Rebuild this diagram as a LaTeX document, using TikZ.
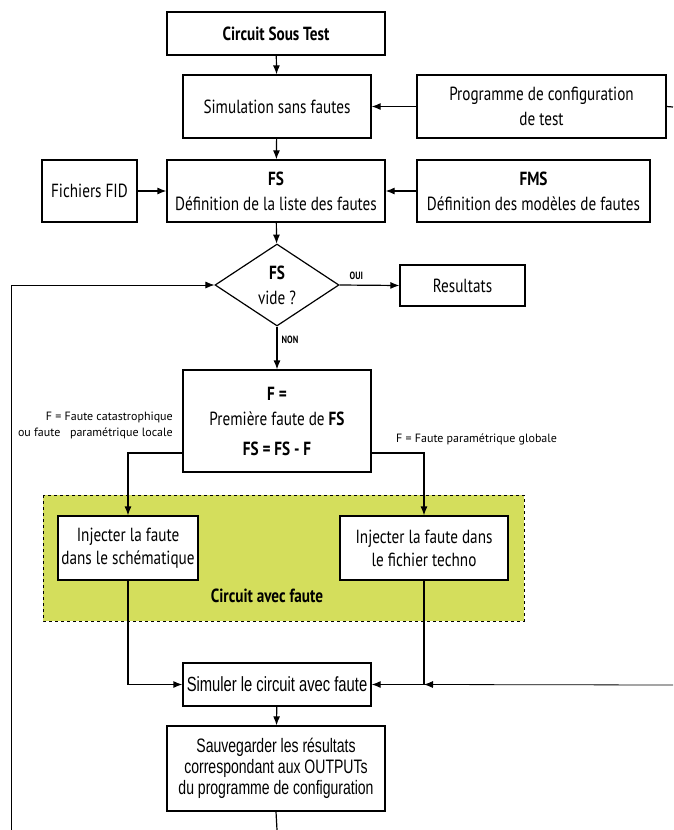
\documentclass[tikz,border=0pt]{standalone}
\usepackage{fontspec}
\setmainfont{PT Sans}[FakeStretch=0.80]
\newfontfamily\notefont{PT Sans}
\newfontfamily\narrowfont{Liberation Sans}[FakeStretch=0.72]
\usetikzlibrary{arrows.meta,shapes.geometric}
\definecolor{zonegreen}{RGB}{212,222,92}
\begin{document}
\begin{tikzpicture}[x=1pt,y=-1pt,
  box/.style={draw, line width=1.2pt, inner sep=0pt, align=center,
    font=\fontsize{19}{25}\selectfont},
  narrowbox/.style={box, font=\narrowfont\fontsize{19.5}{21}\selectfont},
  decision/.style={draw, line width=1.2pt, diamond, inner sep=0pt, align=center,
    minimum width=124pt, minimum height=82pt, font=\fontsize{19}{25}\selectfont},
  flow/.style={line width=1.2pt, -{Latex[length=9pt,width=7pt]}},
  plain/.style={line width=1.2pt},
  note/.style={font=\notefont\fontsize{12}{16}\selectfont, inner sep=0pt},
  tag/.style={font=\bfseries\fontsize{10.5}{12}\selectfont, inner sep=0pt}]
\useasboundingbox (0,0) rectangle (673,830);

% fault-injection zone
\draw[dashed, line width=0.8pt, fill=zonegreen] (43,495) rectangle (524,621);

% boxes
\node[box, minimum width=218pt, minimum height=43pt] (cst) at (276,33.5) {\textbf{Circuit Sous Test}};
\node[box, minimum width=188pt, minimum height=63pt] (sim) at (277,106.5) {Simulation sans fautes};
\node[box, minimum width=249pt, minimum height=63pt] (prog) at (541.5,106.5) {Programme de configuration\\de test};
\node[box, minimum width=95pt, minimum height=62pt] (fid) at (89.5,191) {Fichiers FID};
\node[box, minimum width=218pt, minimum height=62pt] (fs) at (276,191) {\textbf{FS}\\Définition de la liste des fautes};
\node[box, minimum width=233pt, minimum height=62pt] (fms) at (533.5,191) {\textbf{FMS}\\Définition des modèles de fautes};
\node[decision] (dec) at (277,285) {\textbf{FS}\\vide ?};
\node[box, minimum width=125pt, minimum height=41pt] (res) at (462.5,285.5) {Resultats};
\node[box, minimum width=188pt, minimum height=102pt] (pick) at (277,421)
  {\textbf{F =}\\Première faute de \textbf{FS}\\[5pt]\textbf{FS = FS - F}};
\node[box, fill=white, minimum width=140pt, minimum height=64pt, font=\fontsize{19}{23}\selectfont] (inj1) at (128,548) {Injecter la faute\\dans le schématique};
\node[box, fill=white, minimum width=168pt, minimum height=64pt, font=\fontsize{19}{23}\selectfont] (inj2) at (424,548) {Injecter la faute dans\\le fichier techno};
\node[font=\bfseries\fontsize{19}{22}\selectfont, inner sep=0pt] (zone) at (267,596) {Circuit avec faute};
\node[narrowbox, minimum width=188pt, minimum height=43pt, font=\narrowfont\fontsize{20.5}{24}\selectfont] (simf) at (277,684.5) {Simuler le circuit avec faute};
\node[narrowbox, minimum width=218pt, minimum height=85pt] (save) at (276,768.5)
  {Sauvegarder les résultats\\correspondant aux OUTPUTs\\du programme de configuration};

% labels
\node[note, anchor=east, align=right] (lbl1) at (173,425) {F = Faute catastrophique\\ou faute \ \ paramétrique locale};
\node[note, anchor=west] (lbl2) at (396,439) {F = Faute paramétrique globale};

% free ends at the picture border
\coordinate (progout) at (673,107);
\coordinate (loopin) at (673,685);
\coordinate (loopup) at (11,830);
\coordinate (saveout) at (277,830);

% connectors
\draw[flow] (cst) -- (sim);
\draw[flow] (prog) -- (sim);
\draw[plain] (prog.east) -- (progout);
\draw[flow] (sim) -- (fs);
\draw[flow] (fid) -- (fs);
\draw[flow] (fms) -- (fs);
\draw[flow] (fs) -- (dec);
\draw[flow] (dec.east) -- node[tag, above, pos=0.28, yshift=5pt] (oui) {OUI} (res.west);
\draw[flow] (dec.south) -- node[tag, right, pos=0.32, xshift=4pt] (non) {NON} (pick.north);
\draw[flow, line width=0.8pt] (loopup) |- (dec.west);
\draw[flow] ([yshift=-32pt]pick.west) -| (inj1.north);
\draw[flow] ([yshift=-32pt]pick.east) -| (inj2.north);
\draw[flow] (inj1.south) |- (simf.west);
\draw[flow] (inj2.south) |- (simf.east);
\draw[flow, line width=0.8pt] (loopin) -- (inj2.south |- simf.east);
\draw[flow] (simf) -- (save);
\draw[plain] (save.south) -- (saveout);
\end{tikzpicture}
\end{document}
